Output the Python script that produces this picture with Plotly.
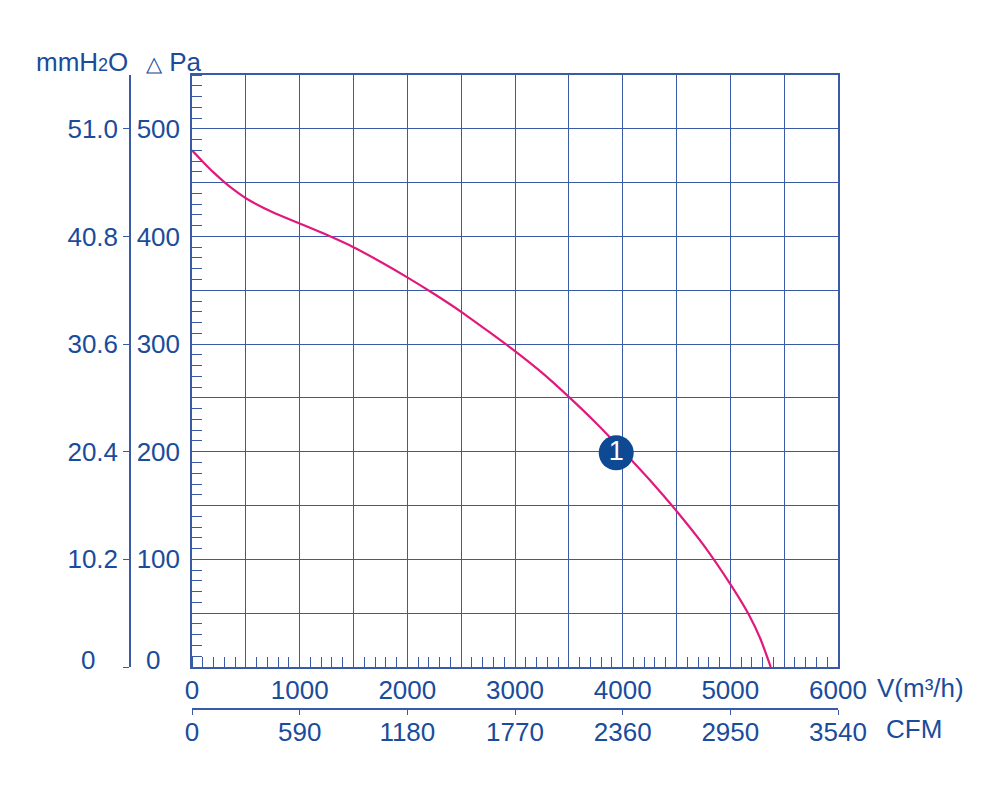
import plotly.graph_objects as go

# ---- data ----
flow_m3h = [0, 100, 200, 300, 400, 500, 750, 1000, 1250, 1500, 1750, 2000, 2250, 2500,
            2750, 3000, 3250, 3500, 3750, 4000, 4250, 4500, 4750, 5000, 5170, 5280, 5375]
pressure_pa = [480, 469.5, 459.5, 450.5, 442.5, 435.5, 422.5, 412, 401.5, 390, 376.5, 362,
               346.5, 330, 312, 293.5, 273.5, 251, 227, 201, 174, 145, 113.5, 77, 49, 26, 0]

point_label = ["1"]
point_x = [3940]
point_y = [199]

x_major = [0, 1000, 2000, 3000, 4000, 5000, 6000]
x_grid = list(range(0, 6001, 500))
y_grid = list(range(0, 551, 50))
pa_labels = [100, 200, 300, 400, 500]
mm_vals = [0, 10.2, 20.4, 30.6, 40.8, 51.0]
mm_text = ["", "10.2", "20.4", "30.6", "40.8", "51.0"]
cfm_vals = [0, 590, 1180, 1770, 2360, 2950, 3540]

BLUE = "#1a4c9b"
GRID = "#3a5aa6"
CURVE = "#e2197c"
FONT = "Liberation Sans, Arial, sans-serif"
FS = 26

W, H = 1000, 789
ML, MR, MT, MB = 130, 162, 75, 80
PW = W - ML - MR
PH = H - MT - MB
xd0 = (192 - ML) / PW
yd0 = (709 - 667) / PH


def px(x):
    return (x - ML) / PW


def py(y):
    return (H - MB - y) / PH


fig = go.Figure()
fig.add_trace(go.Scatter(x=flow_m3h, y=pressure_pa, mode="lines",
                         line=dict(color=CURVE, width=2.2, shape="spline", smoothing=0.6),
                         hoverinfo="skip", showlegend=False))
fig.add_trace(go.Scatter(x=point_x, y=point_y, mode="markers+text", text=point_label,
                         textposition="middle center",
                         textfont=dict(color="white", size=27, family=FONT),
                         marker=dict(size=35, color="#0d4a93", line=dict(width=0)),
                         showlegend=False, hoverinfo="skip"))

x_text = [str(v) if v in x_major else "" for v in x_grid]
y_text = [str(v) if v in pa_labels else "" for v in y_grid]

fig.update_layout(
    width=W, height=H, margin=dict(l=ML, r=MR, t=MT, b=MB),
    paper_bgcolor="white", plot_bgcolor="white",
    font=dict(family=FONT, size=FS, color=BLUE),
    xaxis=dict(domain=[xd0, 1], range=[0, 6000], tickvals=x_grid, ticktext=x_text,
               showgrid=True, gridcolor=GRID, gridwidth=1.3, zeroline=False,
               showline=True, linecolor=GRID, linewidth=1.5, mirror=True,
               ticks="", ticklabelstandoff=-1,
               minor=dict(dtick=100, ticks="inside", ticklen=10, tickcolor=GRID,
                          tickwidth=1.3, showgrid=False),
               tickfont=dict(size=FS, color=BLUE)),
    yaxis=dict(domain=[yd0, 1], range=[0, 550], tickvals=y_grid, ticktext=y_text,
               showgrid=True, gridcolor=GRID, gridwidth=1.3, zeroline=False,
               showline=True, linecolor=GRID, linewidth=1.5, mirror=True,
               ticks="", ticklabelstandoff=5,
               minor=dict(dtick=10, ticks="inside", ticklen=10, tickcolor=GRID,
                          tickwidth=1.3, showgrid=False),
               tickfont=dict(size=FS, color=BLUE)),
    yaxis2=dict(overlaying="y", anchor="free", position=0, side="left",
                range=[0, 56.1], tickvals=mm_vals, ticktext=mm_text,
                showgrid=False, zeroline=False, showline=True, linecolor=GRID,
                linewidth=1.5, ticks="outside", ticklen=6, tickcolor=GRID,
                tickfont=dict(size=FS, color=BLUE)),
    xaxis2=dict(overlaying="x", anchor="free", position=0, side="bottom",
                range=[0, 3540], tickvals=cfm_vals,
                showgrid=False, zeroline=False, showline=True, linecolor=GRID,
                linewidth=1.5, ticks="outside", ticklen=5, tickcolor=GRID,
                ticklabelstandoff=-5,
                tickfont=dict(size=FS, color=BLUE)),
)
# dummy trace to activate secondary axes
fig.add_trace(go.Scatter(x=[None], y=[None], xaxis="x2", yaxis="y2", showlegend=False,
                         hoverinfo="skip"))

ann = [
    dict(text="0", x=px(88), y=0, xref="paper", yref="y", yshift=7,
         xanchor="center", yanchor="middle"),
    dict(text="0", x=px(153), y=0, xref="paper", yref="y", yshift=7,
         xanchor="center", yanchor="middle"),
    dict(text="V(m³/h)", x=px(875), y=py(688), xref="paper", yref="paper",
         xanchor="left", yanchor="middle"),
    dict(text="CFM", x=px(884), y=py(729), xref="paper", yref="paper",
         xanchor="left", yanchor="middle"),
    dict(text="mmH<span style='font-size:18px'>2</span>O", x=px(34), y=py(62),
         xref="paper", yref="paper", xanchor="left", yanchor="middle"),
    dict(text="<span style='font-size:21px'>△</span> Pa", x=px(144), y=py(62),
         xref="paper", yref="paper", xanchor="left", yanchor="middle"),
]
for a in ann:
    a.update(showarrow=False, font=dict(family=FONT, size=FS, color=BLUE))
fig.update_layout(annotations=ann)

fig.write_html("out.html")
